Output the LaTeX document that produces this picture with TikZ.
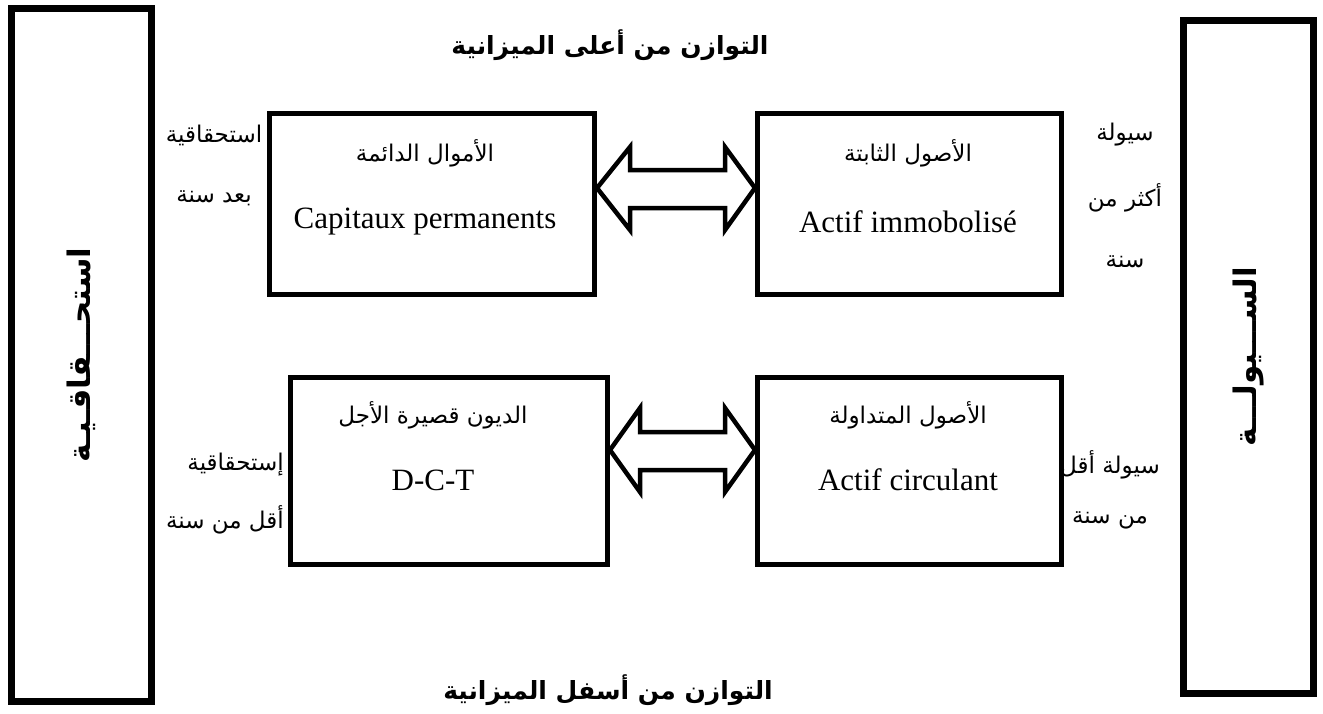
\documentclass[tikz,border=0pt]{standalone}
\usepackage{fontspec}
\setmainfont{Liberation Serif}
\newfontfamily\ar[Script=Arabic]{DejaVu Sans}
\TeXXeTstate=1
\usetikzlibrary{calc}
\tikzset{
  frame/.style={draw, line width=5pt, minimum width=#1},
  tallframe/.style={draw, line width=7pt, minimum width=140pt, minimum height=693pt},
  artxt/.style={font=\ar\fontsize{23}{26}\selectfont, inner sep=0pt},
  latxt/.style={font=\fontsize{31}{34}\selectfont, inner sep=0pt},
  ttl/.style={font=\ar\bfseries\fontsize{25}{30}\selectfont, inner sep=0pt},
  vtxt/.style={font=\ar\bfseries\fontsize{31}{34}\selectfont, inner sep=0pt, rotate=90},
  blockarrow/.style={draw, line width=4.5pt, line join=miter, fill=white}
}
\begin{document}
\begin{tikzpicture}[x=1pt, y=-1pt]
\useasboundingbox (0,0) rectangle (1323,713);

% tall side frames
\node[tallframe] (left) at (81.5,355) {};
\node[tallframe, minimum width=130pt, minimum height=673pt] (right) at (1248.5,357) {};
\node[vtxt] (lefttxt) at (left) {\beginR استحـــقاقـيـة\endR};
\node[vtxt] (righttxt) at (right) {\beginR الســـيولـــة\endR};

% balance boxes
\node[frame=325pt, minimum height=181pt] (ul) at (432,204) {};
\node[frame=304pt, minimum height=181pt] (ur) at (909.5,204) {};
\node[frame=317pt, minimum height=187pt] (ll) at (449,471) {};
\node[frame=304pt, minimum height=187pt] (lr) at (909.5,471) {};

\node[artxt] (ula) at (425,153) {\beginR الأموال الدائمة\endR};
\node[latxt] (ulb) at (425,222) {Capitaux permanents};
\node[artxt] (ura) at (908,153) {\beginR الأصول الثابتة\endR};
\node[latxt] (urb) at (908,222) {Actif immobolisé};
\node[artxt] (lla) at (433,415) {\beginR الديون قصيرة الأجل\endR};
\node[latxt] (llb) at (433,480) {D-C-T};
\node[artxt] (lra) at (908,415) {\beginR الأصول المتداولة\endR};
\node[latxt] (lrb) at (908,480) {Actif circulant};

% side labels
\node[artxt] (l1) at (214,135) {\beginR استحقاقية\endR};
\node[artxt] (l2) at (214,198) {\beginR بعد سنة\endR};
\node[artxt] (r1) at (1125,135) {\beginR سيولة\endR};
\node[artxt] (r2) at (1125,198) {\beginR أكثر من\endR};
\node[artxt] (r3) at (1125,262) {\beginR سنة\endR};
\node[artxt, anchor=east] (l3) at (284,465) {\beginR إستحقاقية\endR};
\node[artxt, anchor=east] (l4) at (284,520) {\beginR أقل من سنة\endR};
\node[artxt] (r4) at (1110,465) {\beginR سيولة أقل\endR};
\node[artxt] (r5) at (1110,520) {\beginR من سنة\endR};

% titles
\node[ttl] (top) at (610,45) {\beginR التوازن من أعلى الميزانية\endR};
\node[ttl] (bot) at (608,690) {\beginR التوازن من أسفل الميزانية\endR};

% double block arrows between the boxes
\coordinate (ua) at ($(ul.east)+(0,-16)$);
\coordinate (ub) at ($(ur.west)+(0,-16)$);
\draw[blockarrow] (ua) -- ++(33,-41) -- ++(0,23) -- ($(ub)+(-30,-18)$) -- ++(0,-23)
  -- (ub) -- ++(-30,42) -- ++(0,-22) -- ($(ua)+(33,20)$) -- ++(0,22) -- cycle;
\coordinate (la) at ($(ll.east)+(0,-21)$);
\coordinate (lb) at ($(lr.west)+(0,-21)$);
\draw[blockarrow] (la) -- ++(30,-42) -- ++(0,24) -- ($(lb)+(-30,-18)$) -- ++(0,-24)
  -- (lb) -- ++(-30,42) -- ++(0,-22) -- ($(la)+(30,20)$) -- ++(0,22) -- cycle;
\end{tikzpicture}
\end{document}
